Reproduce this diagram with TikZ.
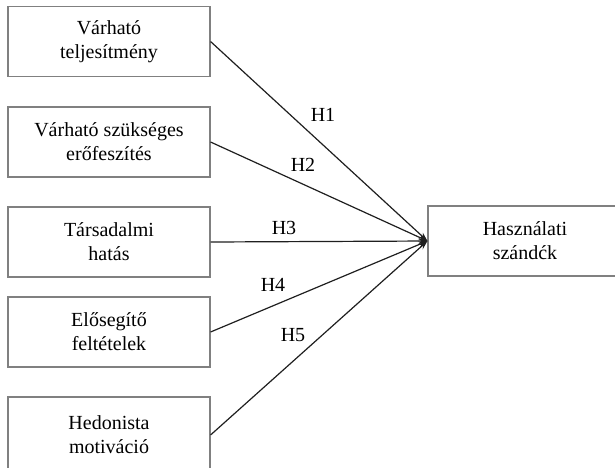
\documentclass[tikz,border=0pt]{standalone}
\usepackage{fontspec}
\setmainfont{Liberation Serif}
\usetikzlibrary{arrows.meta}
\begin{document}
\begin{tikzpicture}[x=1pt,y=-1pt,
  box/.style={draw=black!50,line width=1.1pt,minimum width=202pt,minimum height=70pt,align=center,inner sep=0pt,
    font=\fontsize{20}{24}\selectfont},
  tbox/.style={draw=black!50,line width=1.1pt,minimum width=194pt,minimum height=70pt,align=center,inner sep=0pt,
    font=\fontsize{20}{24}\selectfont},
  conn/.style={draw=black!88,line width=1.2pt,-{Stealth[length=9pt,width=6pt]}},
  lab/.style={font=\fontsize{20}{24}\selectfont,inner sep=0pt}]
\useasboundingbox (0,0) rectangle (615,467);
\clip (0,0) rectangle (615,467);
\node[box] (b1) at (109,41.5) {Várható\\teljesítmény};
\node[box] (b2) at (109,142) {Várható szükséges\\erőfeszítés};
\node[box] (b3) at (109,242) {Társadalmi\\hatás};
\node[box] (b4) at (109,332) {Elősegítő\\feltételek};
\node[box,minimum height=76pt] (b5) at (109,435) {Hedonista\\motiváció};
\node[tbox] (t) at (525,241) {Használati\\szándćk};
\draw[conn] (b1.east) -- (t.west);
\draw[conn] (b2.east) -- (t.west);
\draw[conn] (b3.east) -- (t.west);
\draw[conn] (b4.east) -- (t.west);
\draw[conn] (b5.east) -- (t.west);
\node[lab] (h1) at (323,115) {H1};
\node[lab] (h2) at (303,165) {H2};
\node[lab] (h3) at (284,228) {H3};
\node[lab] (h4) at (273,285) {H4};
\node[lab] (h5) at (293,335) {H5};
\end{tikzpicture}
\end{document}
